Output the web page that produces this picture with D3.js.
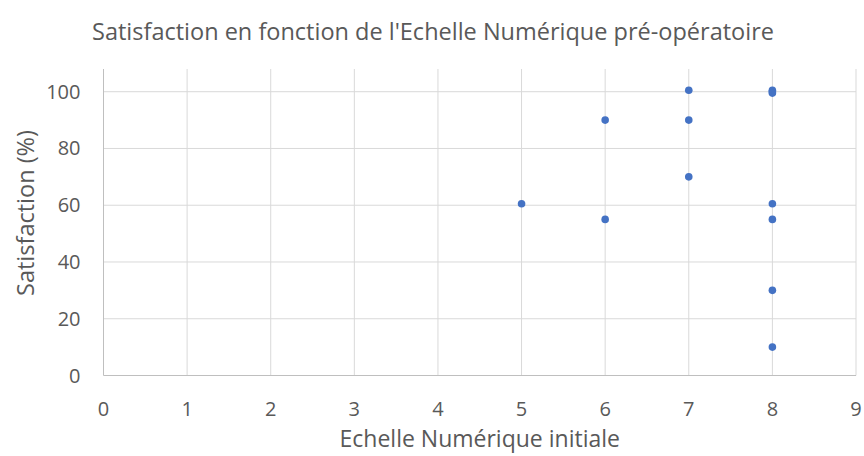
<!DOCTYPE html>
<html>
<head>
<meta charset="utf-8">
<script src="https://cdn.jsdelivr.net/npm/d3@7"></script>
<style>
  body { margin: 0; background: #fff; }
  text { font-family: "Open Sans", sans-serif; fill: #595959; }
</style>
</head>
<body>
<svg width="864" height="456"></svg>
<script>
// valeurs
var echelle = [5, 6, 6, 7, 7, 7, 8, 8, 8, 8, 8, 8, 8];
var satisfaction = [60.5, 90, 55, 100.5, 90, 70, 100.5, 100, 99.5, 60.5, 55, 30, 10];
var xTicks = [0, 1, 2, 3, 4, 5, 6, 7, 8, 9];
var yTicks = [0, 20, 40, 60, 80, 100];

var svg = d3.select("svg");
var pLeft = 103.5, pRight = 856, pTop = 69, pBottom = 375.5;

var x = d3.scaleLinear().domain([0, 9]).range([pLeft, pRight]);
var y = d3.scaleLinear().domain([0, 108]).range([pBottom, pTop]);

const g = svg.append("g");

// grille
g.selectAll(".hgrid").data(yTicks.filter(d => d > 0)).enter()
  .append("line")
    .attr("x1", pLeft).attr("x2", pRight)
    .attr("y1", d => y(d)).attr("y2", d => y(d))
    .attr("stroke", "#d9d9d9").attr("stroke-width", 1);

g.selectAll(".vgrid").data(xTicks.filter(d => d > 0)).enter()
  .append("line")
    .attr("x1", d => x(d)).attr("x2", d => x(d))
    .attr("y1", pTop).attr("y2", pBottom)
    .attr("stroke", "#d9d9d9").attr("stroke-width", 1);

// axes
g.append("line").attr("x1", pLeft).attr("x2", pLeft).attr("y1", pTop).attr("y2", pBottom)
  .attr("stroke", "#bfbfbf");
g.append("line").attr("x1", pLeft).attr("x2", pRight).attr("y1", pBottom).attr("y2", pBottom)
  .attr("stroke", "#bfbfbf");

g.selectAll(".ylab").data(yTicks).enter()
  .append("text")
    .attr("x", pLeft - 23)
    .attr("y", d => y(d) + 7)
    .attr("text-anchor", "end")
    .style("font-size", "20px")
    .text(d => d);

g.selectAll(".xlab").data(xTicks).enter()
  .append("text")
    .attr("x", d => x(d))
    .attr("y", 416)
    .attr("text-anchor", "middle")
    .style("font-size", "20px")
    .text(d => d);

// points
g.selectAll("circle")
  .data(d3.range(echelle.length))
  .enter()
  .append("circle")
    .attr("cx", i => x(echelle[i]))
    .attr("cy", i => y(satisfaction[i]))
    .attr("r", 3.8)
    .style("fill", "#4472c4");

// titres
svg.append("text")
  .attr("x", 433).attr("y", 40)
  .attr("text-anchor", "middle")
  .style("font-size", "23.5px")
  .text("Satisfaction en fonction de l'Echelle Numérique pré-opératoire");

svg.append("text")
  .attr("x", (pLeft + pRight) / 2).attr("y", 447)
  .attr("text-anchor", "middle")
  .style("font-size", "23px")
  .text("Echelle Numérique initiale");

svg.append("text")
  .attr("transform", "translate(34," + 213 + ") rotate(-90)")
  .attr("text-anchor", "middle")
  .style("font-size", "23.5px")
  .text("Satisfaction (%)");
</script>
</body>
</html>
